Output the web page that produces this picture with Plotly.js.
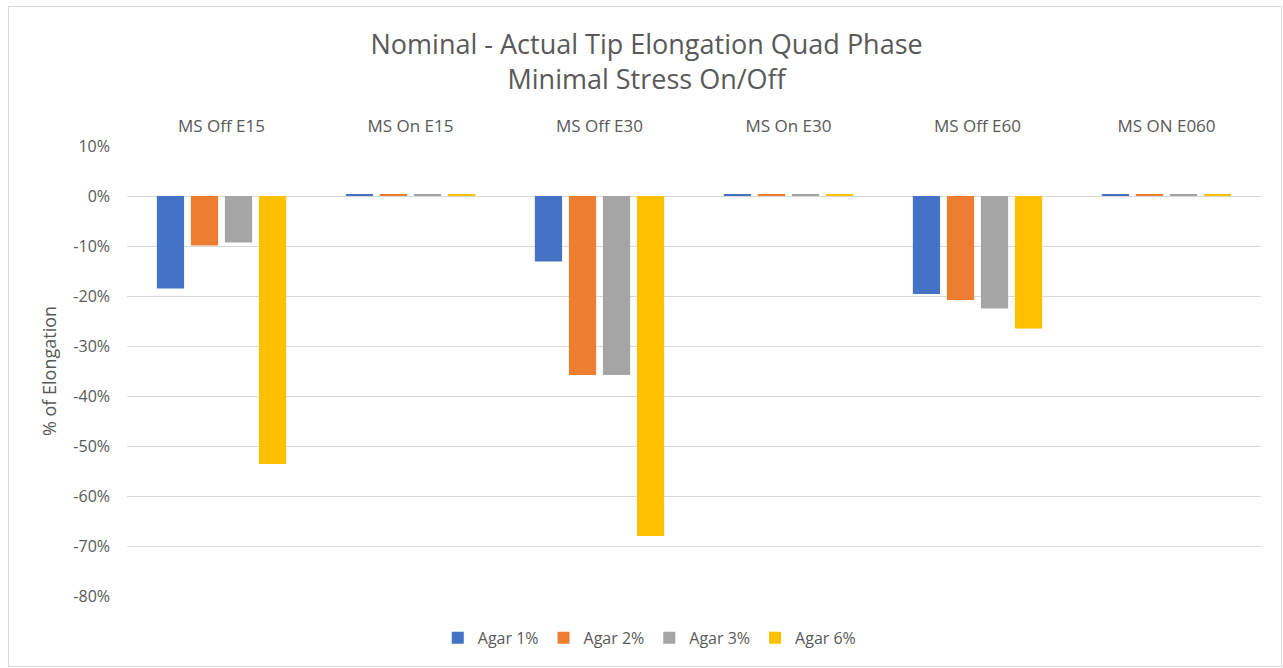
<!DOCTYPE html>
<html>
<head>
<meta charset="utf-8">
<script src="https://cdn.plot.ly/plotly-3.0.1.min.js"></script>
<style>
  html, body { margin: 0; padding: 0; background: #fff; }
  #chart { width: 1283px; height: 668px; }
  #frame { position: absolute; left: 8px; top: 6px; width: 1274px; height: 661px; border: 1px solid #d9d9d9; pointer-events: none; box-sizing: border-box; }
</style>
</head>
<body>
<div id="chart"></div>
<div id="frame"></div>
<script>
const categories = ["MS Off E15", "MS On E15", "MS Off E30", "MS On E30", "MS Off E60", "MS ON E060"];
const seriesNames = ["Agar 1%", "Agar 2%", "Agar 3%", "Agar 6%"];
const agar1 = [-0.185, 0.003, -0.131, 0.003, -0.196, 0.003];
const agar2 = [-0.099, 0.003, -0.358, 0.003, -0.208, 0.003];
const agar3 = [-0.093, 0.003, -0.358, 0.003, -0.225, 0.003];
const agar6 = [-0.536, 0.003, -0.680, 0.004, -0.265, 0.003];
const colors = ["#4472C4", "#ED7D31", "#A5A5A5", "#FFC000"];
const yTickVals = [0.1, 0, -0.1, -0.2, -0.3, -0.4, -0.5, -0.6, -0.7, -0.8];
const yTickText = ["10%", "0%", "-10%", "-20%", "-30%", "-40%", "-50%", "-60%", "-70%", "-80%"];

const values = [agar1, agar2, agar3, agar6];
const font = "'Open Sans', sans-serif";

const data = values.map((v, i) => ({
  type: "bar",
  name: seriesNames[i],
  x: categories,
  y: v,
  marker: { color: colors[i], line: { width: 0 } },
  hoverinfo: "x+y+name"
}));

const layout = {
  width: 1283,
  height: 668,
  paper_bgcolor: "rgba(0,0,0,0)",
  plot_bgcolor: "#ffffff",
  margin: { l: 127, r: 22, t: 146, b: 72 },
  font: { family: font, color: "#595959", size: 16 },
  title: {
    text: "Nominal - Actual Tip Elongation Quad Phase<br>Minimal Stress On/Off",
    font: { family: font, size: 27, color: "#595959" },
    x: 0.504, xanchor: "center",
    y: 0.919, yanchor: "middle"
  },
  barmode: "group",
  bargap: 0.28,
  bargroupgap: 0.2,
  xaxis: {
    type: "category",
    side: "top",
    showgrid: false,
    showline: false,
    zeroline: false,
    ticks: "",
    tickfont: { family: font, size: 17, color: "#595959" },
    ticklabelstandoff: 10
  },
  yaxis: {
    range: [-0.8, 0.1],
    tickvals: yTickVals,
    ticktext: yTickText,
    showgrid: true,
    gridcolor: "#d9d9d9",
    gridwidth: 1,
    zeroline: true,
    zerolinecolor: "#d9d9d9",
    zerolinewidth: 1,
    showline: false,
    ticks: "",
    tickfont: { family: font, size: 16, color: "#595959" },
    ticklabelstandoff: 16,
    automargin: false,
    title: { text: "% of Elongation", font: { family: font, size: 18, color: "#595959" }, standoff: 12 }
  },
  legend: {
    orientation: "h",
    x: 0.461, xanchor: "center",
    y: -0.093, yanchor: "middle",
    font: { family: font, size: 16, color: "#595959" },
    traceorder: "normal",
    itemwidth: 30
  },
  showlegend: true
};

Plotly.newPlot("chart", data, layout, { displayModeBar: false });
</script>
</body>
</html>
